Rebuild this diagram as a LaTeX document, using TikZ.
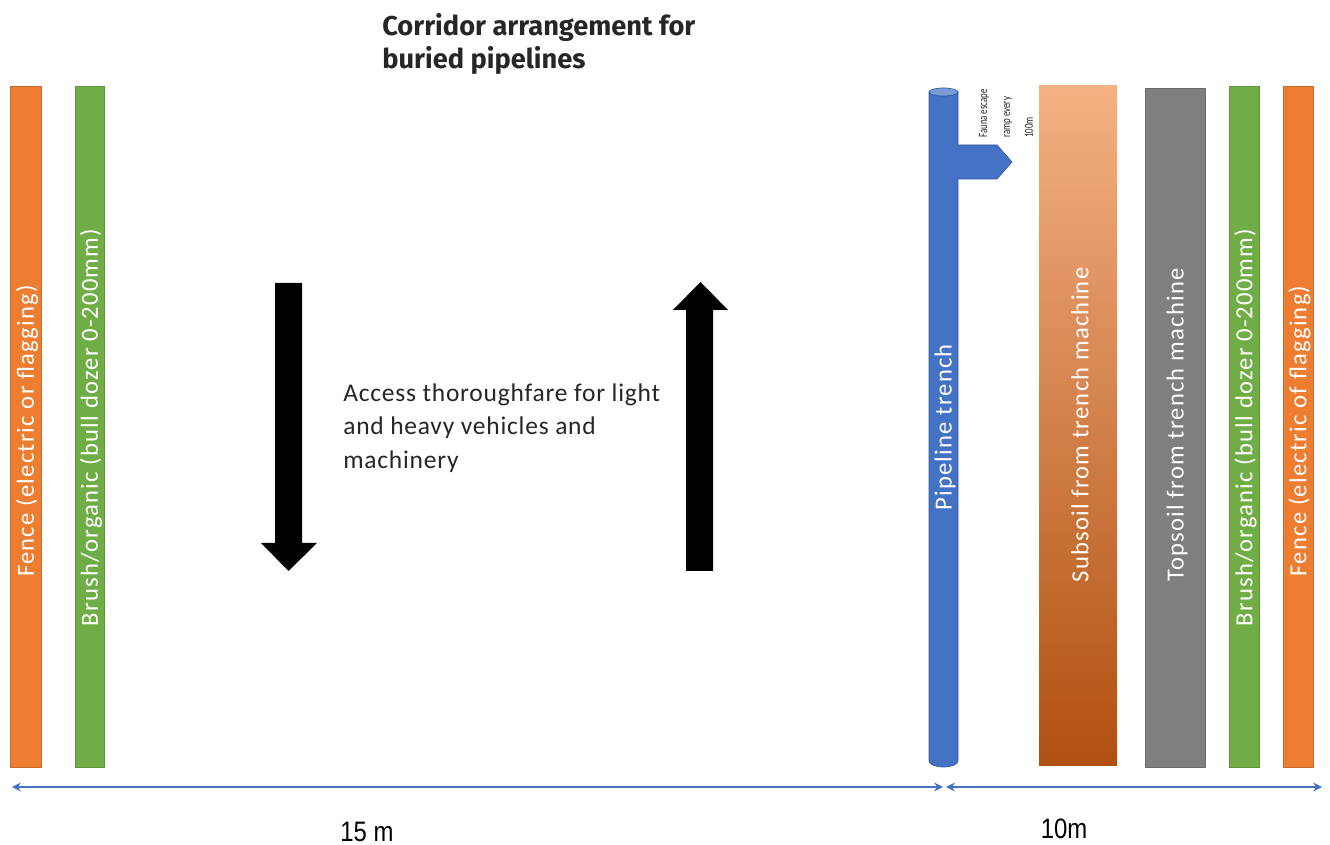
\documentclass[tikz,border=0pt]{standalone}
\usepackage{fontspec}
\setmainfont{Carlito}
\newfontfamily\titlefont{Fira Sans}
\newfontfamily\dimfont[FakeStretch=0.85]{Liberation Sans}
\newfontfamily\spacedfont[LetterSpace=5]{Carlito}
\newfontfamily\narrowfont[FakeStretch=0.72]{Carlito}
\usetikzlibrary{arrows.meta}

\definecolor{fenceorange}{RGB}{237,125,49}
\definecolor{brushgreen}{RGB}{112,173,71}
\definecolor{pipeblue}{RGB}{68,114,196}
\definecolor{topsoilgray}{RGB}{127,127,127}
\definecolor{subsoiltop}{RGB}{244,177,131}
\definecolor{subsoilbot}{RGB}{176,80,16}

\begin{document}
\begin{tikzpicture}[x=0.02cm, y=0.02cm,
  strip/.style={fill=#1, draw=#1!85!black, line width=0.4pt},
  striplabel/.style={rotate=90, text=white, inner sep=0, font=\spacedfont\fontsize{14}{16}\selectfont},
  dimline/.style={pipeblue, line width=1pt, {Stealth[length=5pt,width=5pt]}-{Stealth[length=5pt,width=5pt]}},
  dimlabel/.style={font=\dimfont\fontsize{16}{18}\selectfont}]

  \useasboundingbox (0,0) rectangle (1330,845);

  \node[anchor=north west, align=left, inner sep=0, text=black!85,
    font=\titlefont\bfseries\fontsize{15.5}{18.7}\selectfont] (title) at (382,832)
    {Corridor arrangement for\\buried pipelines};

  % left side of the corridor
  \draw[strip=fenceorange] (10,78) rectangle (41,759);
  \node[striplabel] (fenceL) at (27,414) {Fence (electric or flagging)};
  \draw[strip=brushgreen] (75,78) rectangle (104,759);
  \node[striplabel] (brushL) at (91,417.5) {Brush/organic (bull dozer 0-200mm)};

  % traffic both ways
  \fill (275,562) -- (302,562) -- (302,302) -- (317,302) -- (288.5,274)
        -- (261,302) -- (275,302) -- cycle;
  \fill (686,274) -- (713,274) -- (713,535) -- (728,535) -- (700.5,563)
        -- (673,535) -- (686,535) -- cycle;
  \node[anchor=north west, align=left, inner sep=0, text=black!85,
    font=\fontsize{14.5}{19.3}\addfontfeature{LetterSpace=3}\selectfont] (access) at (343,462)
    {Access thoroughfare for light\\and heavy vehicles and\\machinery};

  % trench and escape ramp
  \filldraw[fill=pipeblue, draw=pipeblue!80!black] (929,753) -- (929,84)
    arc[start angle=180, end angle=360, x radius=14.5, y radius=6] -- (958,753) -- cycle;
  \filldraw[fill=pipeblue!70!white, draw=pipeblue!80!black] (943.5,753) ellipse[x radius=14.5, y radius=4];
  \node[striplabel] (trench) at (945,417.5) {Pipeline trench};
  \fill[pipeblue] (957,700) -- (997,700) -- (1012,683) -- (997,666) -- (957,666) -- cycle;
  \draw[pipeblue!80!black] (958,700) -- (997,700) -- (1012,683) -- (997,666) -- (958,666);
  \node[rotate=90, anchor=north west, align=left, inner sep=0, text=black!85,
    font=\narrowfont\fontsize{7}{13}\selectfont] (ramp) at (979,707) {Fauna escape\\ramp every\\100m};

  % spoil heaps
  \shade[top color=subsoiltop, middle color=fenceorange, bottom color=subsoilbot]
    (1039,79) rectangle (1117,759);
  \node[striplabel] (subsoil) at (1080,420) {Subsoil from trench machine};
  \draw[strip=topsoilgray] (1145,78) rectangle (1205,757);
  \node[striplabel] (topsoil) at (1177,420) {Topsoil from trench machine};

  % right side of the corridor
  \draw[strip=brushgreen] (1229,78) rectangle (1259,759);
  \node[striplabel] (brushR) at (1245.5,417.5) {Brush/organic (bull dozer 0-200mm)};
  \draw[strip=fenceorange] (1283,78) rectangle (1313,759);
  \node[striplabel] (fenceR) at (1299.5,414) {Fence (electric of flagging)};

  % widths
  \coordinate (dimL) at (12,58);
  \coordinate (dimM) at (943,58);
  \coordinate (dimN) at (946,58);
  \coordinate (dimR) at (1322,58);
  \draw[dimline] (dimL) -- (dimM);
  \draw[dimline, line width=0.7pt] (dimN) -- (dimR);
  \node[dimlabel] (widthA) at (367,13) {15 m};
  \node[dimlabel] (widthB) at (1064,16) {10m};

\end{tikzpicture}
\end{document}
